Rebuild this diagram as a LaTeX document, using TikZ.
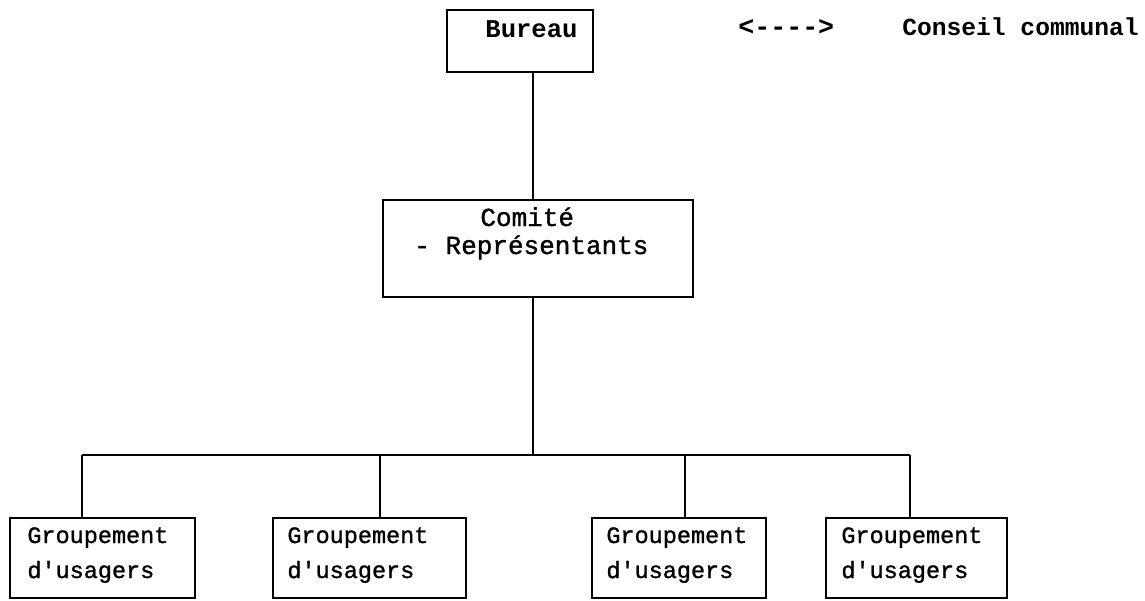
\documentclass[tikz,border=0pt]{standalone}
\usepackage{fontspec}
\setmonofont{Liberation Mono}
\newfontfamily\typew[FakeBold=1.2]{Liberation Mono}
\begin{document}
\begin{tikzpicture}[x=0.5pt,y=-0.5pt,
  box/.style={draw,line width=1.3pt,rectangle,inner sep=0pt},
  link/.style={line width=1.3pt},
  txt/.style={anchor=base west,inner sep=0pt,font=\typew\fontsize{11.75pt}{14pt}\selectfont},
  bigtxt/.style={anchor=base west,inner sep=0pt,font=\typew\fontsize{13pt}{15pt}\selectfont},
  boldtxt/.style={anchor=base west,inner sep=0pt,font=\ttfamily\bfseries\fontsize{12.8pt}{15pt}\selectfont}]
\useasboundingbox (0,0) rectangle (1145,600);
% boxes
\node[box,minimum width=73pt,minimum height=31pt] (bureau) at (520,41) {};
\node[box,minimum width=155pt,minimum height=48.5pt] (comite) at (538,248.5) {};
\node[box,minimum width=92.5pt,minimum height=40pt] (g1) at (102.5,558) {};
\node[box,minimum width=96.5pt,minimum height=40pt] (g2) at (369.5,558) {};
\node[box,minimum width=87pt,minimum height=40pt] (g3) at (679,558) {};
\node[box,minimum width=90.5pt,minimum height=40pt] (g4) at (916.5,558) {};
% texts
\node[boldtxt] (tb) at (485,37) {Bureau};
\node[boldtxt,font=\ttfamily\bfseries\fontsize{13.3pt}{15pt}\selectfont] (arr) at (738,35) {<---->};
\node[boldtxt,font=\ttfamily\bfseries\fontsize{12.3pt}{15pt}\selectfont] (cc) at (902,35) {Conseil communal};
\node[bigtxt] (tc1) at (480,226) {Comité};
\node[bigtxt] (tc2) at (414,254) {- Représentants};
\foreach \n/\x in {1/27,2/287,3/606,4/841}{
  \node[txt] (gt\n a) at (\x,543) {Groupement};
  \node[txt] (gt\n b) at (\x,578) {d'usagers};
}
% connectors
\coordinate (stem) at (533,455);
\draw[link] (bureau.south -| stem) -- (comite.north -| stem);
\draw[link] (comite.south -| stem) -- (stem);
\coordinate (d1) at (82,455);
\coordinate (d2) at (380,455);
\coordinate (d3) at (685,455);
\coordinate (d4) at (910,455);
\draw[link] (d1) -- (d4);
\draw[link] (d1) -- (g1.north -| d1);
\draw[link] (d2) -- (g2.north -| d2);
\draw[link] (d3) -- (g3.north -| d3);
\draw[link] (d4) -- (g4.north -| d4);
\end{tikzpicture}
\end{document}
